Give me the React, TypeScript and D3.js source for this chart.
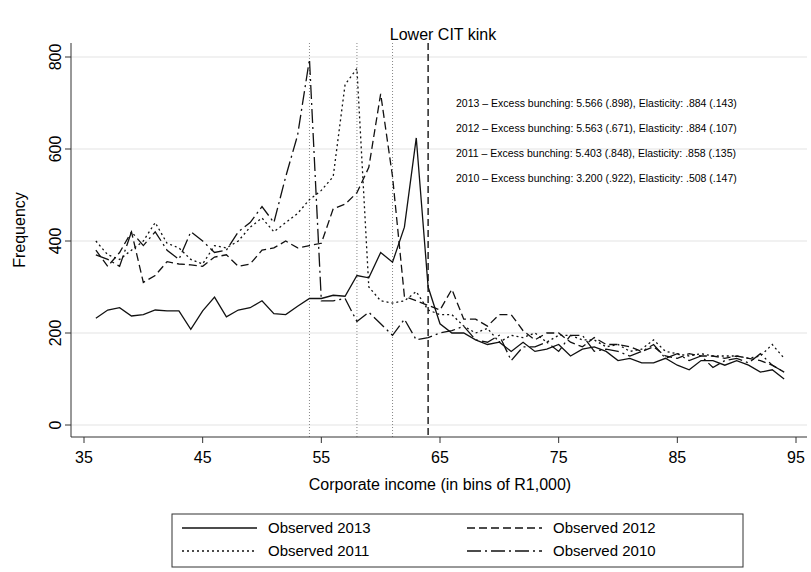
import * as d3 from "d3";

const bins = d3.range(36, 95);
const obs2013 = [232,250,255,237,240,250,248,248,208,248,278,235,250,255,270,242,240,258,275,275,282,280,325,320,375,354,430,624,300,220,200,200,185,175,180,160,180,160,165,175,150,165,170,160,140,145,135,135,145,130,120,140,140,130,140,130,115,120,100];
const obs2012 = [380,345,375,420,310,325,355,350,348,345,365,370,345,350,380,385,400,385,390,395,470,480,505,560,720,540,280,270,260,250,295,230,230,215,240,240,205,185,200,200,180,170,190,175,175,170,160,170,150,145,155,150,150,145,150,145,140,130,115];
const obs2011 = [400,370,360,380,400,440,395,385,360,350,390,385,400,430,450,420,440,460,490,510,540,740,775,300,270,265,270,290,250,240,240,215,200,210,180,195,190,200,180,195,195,185,185,170,175,160,165,185,160,155,150,155,150,150,150,145,150,175,145];
const obs2010 = [370,360,345,420,390,420,380,360,420,400,375,380,420,440,475,440,540,630,795,270,270,275,225,245,220,195,230,185,190,200,205,215,185,180,195,140,170,170,180,160,195,195,160,165,160,150,160,175,145,155,140,150,125,140,145,135,155,130,115];
const xTicks = [35, 45, 55, 65, 75, 85, 95];
const yTicks = [0, 200, 400, 600, 800];
const countLines = [54, 58, 61];
const kink = 64;
const notes = [
  "2013 – Excess bunching: 5.566 (.898), Elasticity: .884 (.143)",
  "2012 – Excess bunching: 5.563 (.671), Elasticity: .884 (.107)",
  "2011 – Excess bunching: 5.403 (.848), Elasticity: .858 (.135)",
  "2010 – Excess bunching: 3.200 (.922), Elasticity: .508 (.147)",
];
const series = [
  { name: "Observed 2013", values: obs2013, dash: "" },
  { name: "Observed 2012", values: obs2012, dash: "8,4" },
  { name: "Observed 2011", values: obs2011, dash: "2,3" },
  { name: "Observed 2010", values: obs2010, dash: "14,4,2,4" },
];

export default function App() {
  const W = 811, H = 572;
  const left = 71, right = 807, top = 43, bottom = 437;
  const x = d3.scaleLinear().domain([35, 95]).range([84, 796]);
  const y = d3.scaleLinear().domain([0, 800]).range([425, 57]);
  const line = d3.line<number>().x((_, i) => x(bins[i])).y((d) => y(d));
  const font = "Liberation Sans, Arial, sans-serif";
  return (
    <svg width={W} height={H} style={{ position: "absolute", left: 0, top: 0, background: "#fff" }} fontFamily={font}>
      <rect width={W} height={H} fill="#fff" />
      {yTicks.map((t) => (
        <line key={t} x1={left} x2={right} y1={y(t)} y2={y(t)} stroke="#e4e4e4" strokeWidth={1.2} />
      ))}
      {countLines.map((c) => (
        <line key={c} x1={x(c)} x2={x(c)} y1={top} y2={bottom} stroke="#888" strokeWidth={1} strokeDasharray="1,2" />
      ))}
      <line x1={x(kink)} x2={x(kink)} y1={top} y2={bottom} stroke="#333" strokeWidth={1.6} strokeDasharray="7,4" />
      {series.map((s) => (
        <path key={s.name} d={line(s.values) ?? ""} fill="none" stroke="#111" strokeWidth={1.3} strokeDasharray={s.dash} />
      ))}
      <line x1={left} x2={left} y1={top} y2={bottom} stroke="#333" />
      <line x1={left} x2={right} y1={bottom} y2={bottom} stroke="#333" />
      {yTicks.map((t) => (
        <g key={t}>
          <line x1={left - 6} x2={left} y1={y(t)} y2={y(t)} stroke="#333" />
          <text transform={`translate(${left - 10},${y(t)}) rotate(-90)`} textAnchor="middle" fontSize={16}>{t}</text>
        </g>
      ))}
      {xTicks.map((t) => (
        <g key={t}>
          <line x1={x(t)} x2={x(t)} y1={bottom} y2={bottom + 6} stroke="#333" />
          <text x={x(t)} y={bottom + 26} textAnchor="middle" fontSize={16}>{t}</text>
        </g>
      ))}
      <text x={443} y={40} textAnchor="middle" fontSize={16}>Lower CIT kink</text>
      <text x={440} y={490} textAnchor="middle" fontSize={16}>Corporate income (in bins of R1,000)</text>
      <text transform={`translate(25,${(top + bottom) / 2 - 10}) rotate(-90)`} textAnchor="middle" fontSize={16}>Frequency</text>
      {notes.map((n, i) => (
        <text key={n} x={456} y={107 + i * 25} fontSize={10.5}>{n}</text>
      ))}
      <rect x={172} y={514} width={571} height={53} fill="#fff" stroke="#333" />
      {series.map((s, i) => {
        const cx = 182 + (i % 2) * 285;
        const cy = 528 + Math.floor(i / 2) * 23;
        return (
          <g key={s.name}>
            <line x1={cx} x2={cx + 75} y1={cy} y2={cy} stroke="#111" strokeWidth={1.3} strokeDasharray={s.dash} />
            <text x={cx + 86} y={cy + 5} fontSize={15}>{s.name}</text>
          </g>
        );
      })}
    </svg>
  );
}
